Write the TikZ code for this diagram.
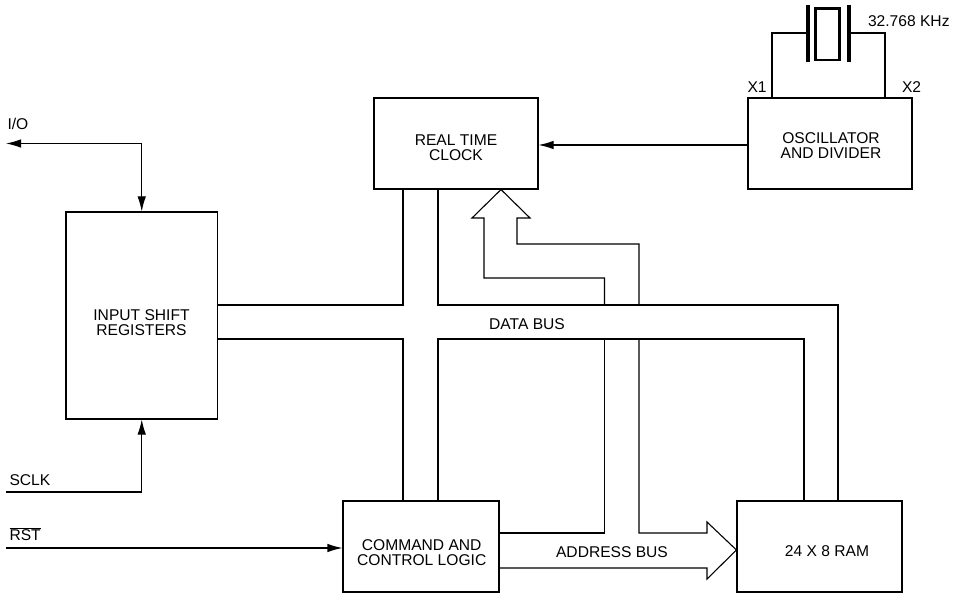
\documentclass[tikz,border=0pt]{standalone}
\usepackage{fontspec}
\setmainfont{Liberation Sans}
\usetikzlibrary{arrows.meta}
\begin{document}
\begin{tikzpicture}[x=1pt,y=-1pt,line width=1.1pt,
  box/.style={draw,inner sep=0pt},
  lbl/.style={align=center,inner sep=0pt,font=\fontsize{15.6}{15}\selectfont},
  sig/.style={-{Latex[length=15pt,width=8.5pt]}},
  plate/.style={line width=4pt},
  xtal/.style={line width=2.8pt}]
\useasboundingbox (0,0) rectangle (958,593);
% blocks
\node[box,minimum width=151.5pt,minimum height=207pt] (isr) at (141.75,315.5) {};
\node[box,minimum width=164pt,minimum height=91pt] (rtc) at (456,143.5) {};
\node[box,minimum width=164pt,minimum height=91pt] (osc) at (830,143.5) {};
\node[box,minimum width=156pt,minimum height=91pt] (cmd) at (421,546.5) {};
\node[box,minimum width=165pt,minimum height=91pt] (ram) at (819.5,546.5) {};
% block texts
\node[lbl] (tisr) at (141.5,322.5) {INPUT SHIFT\\REGISTERS};
\node[lbl] (trtc) at (456,148) {REAL TIME\\CLOCK};
\node[lbl] (tosc) at (831,145.4) {OSCILLATOR\\AND DIVIDER};
\node[lbl] (tcmd) at (421.7,553) {COMMAND AND\\CONTROL LOGIC};
\node[lbl,anchor=base] (tram) at (827,556.7) {24 X 8 RAM};
% bus labels
\node[lbl,anchor=base] (tdata) at (527,330) {DATA BUS};
\node[lbl,anchor=base] (taddr) at (612,557.5) {ADDRESS BUS};
% signal labels
\node[lbl,anchor=base west] (tio) at (7,129.5) {I/O};
\node[lbl,anchor=base west] (tsclk) at (9,485.7) {SCLK};
\node[lbl,anchor=base west] (trst) at (9,540) {$\overline{\mbox{RST}}$};
\node[lbl,anchor=base west] (tfreq) at (867.5,26.7) {32.768 KHz};
\node[lbl,anchor=base west] (tx1) at (747,93) {X1};
\node[lbl,anchor=base west] (tx2) at (901.5,93) {X2};
% signal coordinates
\coordinate (io) at (6,143.5);
\coordinate (sclk) at (6,492);
\coordinate (rst) at (6,548);
% I/O, SCLK, RST
\draw[sig] (isr.north |- io) -- (io);
\draw[sig] (isr.north |- io) -- (isr.north);
\draw[sig] (sclk) -- (isr.south |- sclk) -- (isr.south);
\draw[sig] (rst) -- (cmd.west |- rst);
% oscillator to RTC
\draw[sig] (osc.west |- 0,145) -- (rtc.east |- 0,145);
% crystal
\draw (osc.north -| 772,0) -- (772,33) -- (808,33);
\draw (849,33) -- (885,33) -- (osc.north -| 885,0);
\draw[plate] (808,5) -- (808,62);
\draw[plate] (849,5) -- (849,62);
\draw[xtal] (815.5,8.5) rectangle (839.5,60);
% data bus
\draw (isr.east |- 0,305) -- (403,305) -- (rtc.south -| 403,0);
\draw (isr.east |- 0,339) -- (403,339) -- (cmd.north -| 403,0);
\draw (rtc.south -| 438,0) -- (438,305) -- (838,305) -- (ram.north -| 838,0);
\draw (cmd.north -| 438,0) -- (438,339) -- (804,339) -- (ram.north -| 804,0);
% address bus
\draw (604.5,339) -- (604.5,533) -- (cmd.east |- 0,533);
\draw (639,339) -- (639,533) -- (707,533) -- (707,522) -- (ram.west |- 0,550)
      -- (707,579) -- (707,568) -- (cmd.east |- 0,568);
% bus arrow into RTC
\draw (604.5,305) -- (604.5,278) -- (484,278) -- (484,218) -- (472,218)
      -- (rtc.south -| 501,0) -- (530,218) -- (517,218) -- (517,244) -- (639,244) -- (639,305);
\end{tikzpicture}
\end{document}
